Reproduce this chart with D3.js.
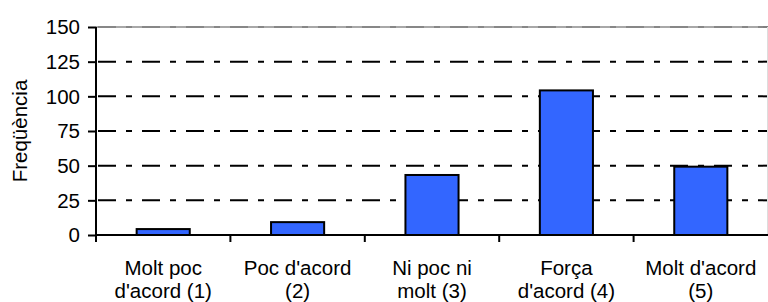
<!DOCTYPE html>
<html><head><meta charset="utf-8">
<script src="https://cdn.jsdelivr.net/npm/d3@7"></script>
<style>body{margin:0;background:#fff}svg{display:block}text{font-family:"Liberation Sans",Arial,sans-serif}</style>
</head><body><svg id="c" width="768" height="302"></svg>
<script>
const categories = [["Molt poc","d'acord (1)"],["Poc d'acord","(2)"],["Ni poc ni","molt (3)"],["Força","d'acord (4)"],["Molt d'acord","(5)"]];
const values = [5, 10, 44, 105, 50];
const yTicks = [0, 25, 50, 75, 100, 125, 150];
const yLabel = "Freqüència";

const svg = d3.select("#c");
const L = 96, R = 768, T = 27, B = 235;
const FS = 20.5;
const x = d3.scaleBand().domain(d3.range(categories.length)).range([L, R]).paddingInner(0.59).paddingOuter(0.295);
const xb = d3.scaleBand().domain(d3.range(categories.length)).range([L, R]);
const y = d3.scaleLinear().domain([0, 150]).range([B, T]);

// grid lines
svg.append("g").selectAll("line").data(yTicks.filter(d => d > 0 && d < 150)).join("line")
  .attr("x1", L).attr("x2", R).attr("y1", d => y(d)).attr("y2", d => y(d))
  .attr("stroke", "#000").attr("stroke-width", 2).attr("stroke-dasharray", "18,10,6,10")
  .attr("stroke-dashoffset", -2);
// top line
svg.append("line").attr("x1", L).attr("x2", R).attr("y1", y(150)).attr("y2", y(150))
  .attr("stroke", "#a8a8a8").attr("stroke-width", 2);
svg.append("line").attr("x1", L).attr("x2", R).attr("y1", y(150)).attr("y2", y(150))
  .attr("stroke", "#666").attr("stroke-width", 1.2).attr("stroke-dasharray", "18,10,6,10")
  .attr("stroke-dashoffset", -2);
// right border
svg.append("line").attr("x1", R - 0.5).attr("x2", R - 0.5).attr("y1", T).attr("y2", B)
  .attr("stroke", "#ddd").attr("stroke-width", 1);

// bars
svg.append("g").selectAll("rect").data(values).join("rect")
  .attr("x", (d, i) => x(i) + 1).attr("width", x.bandwidth() - 2)
  .attr("y", d => y(d) + 1).attr("height", d => B - y(d) - 1)
  .attr("fill", "#3366ff").attr("stroke", "#000").attr("stroke-width", 2);

// y axis
const ya = svg.append("g").attr("transform", `translate(${L},0)`)
  .call(d3.axisLeft(y).tickValues(yTicks).tickSize(8).tickPadding(8));
ya.select(".domain").remove();
ya.selectAll(".tick line").attr("stroke-width", 2);
ya.selectAll("text").attr("font-size", FS).attr("fill", "#000").attr("dy", "0.34em")
  .style("font-family", "Liberation Sans, Arial, sans-serif");
svg.append("line").attr("x1", L).attr("x2", L).attr("y1", T).attr("y2", B + 7).attr("stroke", "#000").attr("stroke-width", 2);

// x axis
svg.append("line").attr("x1", L).attr("x2", R).attr("y1", B).attr("y2", B).attr("stroke", "#000").attr("stroke-width", 2);
svg.append("g").selectAll("line").data(d3.range(1, categories.length)).join("line")
  .attr("x1", i => xb(i)).attr("x2", i => xb(i)).attr("y1", B).attr("y2", B + 7)
  .attr("stroke", "#000").attr("stroke-width", 2);
const lab = svg.append("g").selectAll("text").data(categories).join("text")
  .attr("text-anchor", "middle").attr("font-size", FS).attr("fill", "#000")
  .attr("transform", (d, i) => `translate(${xb(i) + xb.bandwidth() / 2},0)`);
lab.selectAll("tspan").data(d => d).join("tspan").attr("x", 0).attr("y", (d, j) => 275 + j * 23).text(d => d);

svg.append("text").attr("transform", `translate(27,${(T + B) / 2}) rotate(-90)`)
  .attr("text-anchor", "middle").attr("font-size", FS).attr("fill", "#000").text(yLabel);
</script></body></html>
